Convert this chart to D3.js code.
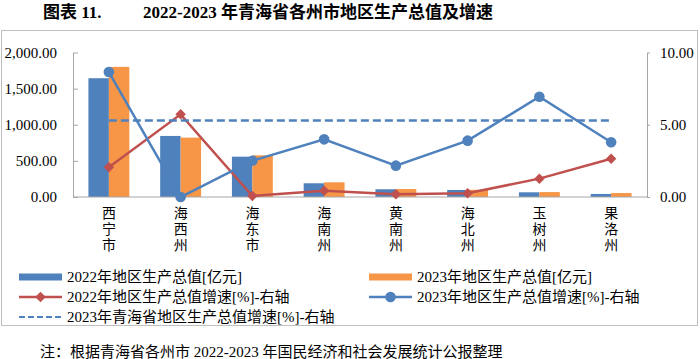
<!DOCTYPE html>
<html>
<head>
<meta charset="utf-8">
<script src="https://cdn.jsdelivr.net/npm/d3@7"></script>
<style>
  html, body { margin: 0; padding: 0; background: #fff; }
  svg { display: block; }
  text { font-family: "Liberation Serif", "Times New Roman", "Noto Sans CJK SC", serif; }
</style>
</head>
<body>
<svg id="chart" width="700" height="359"></svg>
<script>
const categories = ["西宁市", "海西州", "海东市", "海南州", "黄南州", "海北州", "玉树州", "果洛州"];
const gdp2022 = [1644, 845, 558, 190, 107, 97, 65, 42];
const gdp2023 = [1801, 822, 577, 203, 110, 100, 68, 55];
const growth2022 = [2.06, 5.72, 0.07, 0.44, 0.19, 0.26, 1.27, 2.65];
const growth2023 = [8.65, 0.0, 2.51, 3.99, 2.17, 3.90, 6.94, 3.79];
const provinceGrowth2023 = 5.3;
const leftTicks = [0, 500, 1000, 1500, 2000];
const rightTicks = [0, 5, 10];
const legendLabels = [
  "2022年地区生产总值[亿元]",
  "2023年地区生产总值[亿元]",
  "2022年地区生产总值增速[%]-右轴",
  "2023年地区生产总值增速[%]-右轴",
  "2023年青海省地区生产总值增速[%]-右轴"
];

const C_BLUE = "#4F81BD", C_ORANGE = "#F79646", C_RED = "#C0504D", C_AXIS = "#A6A6A6";
const svg = d3.select("#chart");

// title
svg.append("text").attr("x", 43).attr("y", 18).attr("font-size", 17).attr("font-weight", "bold")
  .attr("fill", "#000").text("图表 11.");
svg.append("text").attr("x", 143).attr("y", 18).attr("font-size", 17).attr("font-weight", "bold")
  .attr("fill", "#000").text("2022-2023 年青海省各州市地区生产总值及增速");

// frame
svg.append("rect").attr("x", 1.5).attr("y", 30.5).attr("width", 696).attr("height", 295)
  .attr("fill", "none").attr("stroke", "#BFBFBF").attr("stroke-width", 1);

const L = 73, R = 647, T = 52.5, B = 197;
const x0 = d3.scaleBand().domain(categories).range([L, R]).paddingInner(0.43).paddingOuter(0.215);
const x1 = d3.scaleBand().domain(["2022", "2023"]).range([0, x0.bandwidth()]);
const yL = d3.scaleLinear().domain([0, 2000]).range([B, T]);
const yR = d3.scaleLinear().domain([0, 10]).range([B, T]);
const cx = c => x0(c) + x0.bandwidth() / 2;

// bars
const g = svg.append("g");
categories.forEach((c, i) => {
  g.append("rect").attr("x", x0(c) + x1("2022")).attr("width", x1.bandwidth())
    .attr("y", yL(gdp2022[i])).attr("height", B - yL(gdp2022[i])).attr("fill", C_BLUE);
  g.append("rect").attr("x", x0(c) + x1("2023")).attr("width", x1.bandwidth())
    .attr("y", yL(gdp2023[i])).attr("height", B - yL(gdp2023[i])).attr("fill", C_ORANGE);
});

// axes
const axL = svg.append("g").attr("transform", `translate(${L},0)`)
  .call(d3.axisLeft(yL).tickValues(leftTicks).tickFormat(d3.format(",.2f")).tickSizeInner(-5).tickSizeOuter(0).tickPadding(16));
const axR = svg.append("g").attr("transform", `translate(${R},0)`)
  .call(d3.axisRight(yR).tickValues(rightTicks).tickFormat(d3.format(".2f")).tickSizeInner(3).tickSizeOuter(0).tickPadding(10));
[axL, axR].forEach(a => {
  a.select(".domain").attr("stroke", C_AXIS);
  a.selectAll(".tick line").attr("stroke", C_AXIS);
  a.selectAll(".tick text").attr("font-size", 15).attr("fill", "#000")
    .attr("font-family", "\"Liberation Serif\", \"Times New Roman\", serif");
});
svg.append("line").attr("x1", L).attr("x2", R).attr("y1", B).attr("y2", B).attr("stroke", C_AXIS);

// category labels (vertical stacked)
categories.forEach(c => {
  Array.from(c).forEach((ch, k) => {
    svg.append("text").attr("text-anchor", "middle").attr("font-size", 14)
      .attr("fill", "#000").style("fill", "#000")
      .attr("x", cx(c)).attr("y", 218 + k * 16).text(ch);
  });
});

// lines
const line = d3.line().x((d, i) => cx(categories[i])).y(d => yR(d));
svg.append("path").datum(growth2022).attr("d", line).attr("fill", "none").attr("stroke", C_RED).attr("stroke-width", 2.5);
growth2022.forEach((v, i) => {
  svg.append("path").attr("d", d3.symbol().type(d3.symbolSquare).size(55)())
    .attr("transform", `translate(${cx(categories[i])},${yR(v)}) rotate(45)`).attr("fill", C_RED);
});
svg.append("path").datum(growth2023).attr("d", line).attr("fill", "none").attr("stroke", C_BLUE).attr("stroke-width", 2.5);
growth2023.forEach((v, i) => {
  svg.append("circle").attr("cx", cx(categories[i])).attr("cy", yR(v)).attr("r", 5.3).attr("fill", C_BLUE);
});
svg.append("line").attr("x1", cx(categories[0])).attr("x2", cx(categories[categories.length - 1]))
  .attr("y1", yR(provinceGrowth2023)).attr("y2", yR(provinceGrowth2023))
  .attr("stroke", C_BLUE).attr("stroke-width", 2.5).attr("stroke-dasharray", "8,4");

// legend
const lg = svg.append("g");
const legendPos = [[19, 277], [369, 277], [19, 297], [369, 297], [19, 317]];
legendPos.forEach(([lx, ly], k) => {
  const sw = 43;
  if (k === 0 || k === 1) {
    lg.append("rect").attr("x", lx).attr("y", ly - 3.5).attr("width", sw).attr("height", 7)
      .attr("fill", k === 0 ? C_BLUE : C_ORANGE);
  } else if (k === 2) {
    lg.append("line").attr("x1", lx).attr("x2", lx + sw).attr("y1", ly).attr("y2", ly).attr("stroke", C_RED).attr("stroke-width", 2.5);
    lg.append("path").attr("d", d3.symbol().type(d3.symbolSquare).size(55)())
      .attr("transform", `translate(${lx + sw / 2},${ly}) rotate(45)`).attr("fill", C_RED);
  } else if (k === 3) {
    lg.append("line").attr("x1", lx).attr("x2", lx + sw).attr("y1", ly).attr("y2", ly).attr("stroke", C_BLUE).attr("stroke-width", 2.5);
    lg.append("circle").attr("cx", lx + sw / 2).attr("cy", ly).attr("r", 5.3).attr("fill", C_BLUE);
  } else {
    lg.append("line").attr("x1", lx).attr("x2", lx + sw).attr("y1", ly).attr("y2", ly).attr("stroke", C_BLUE)
      .attr("stroke-width", 2).attr("stroke-dasharray", "6,3");
  }
  lg.append("text").attr("x", lx + sw + 5).attr("y", ly).attr("dy", "0.35em").attr("font-size", 15)
    .attr("fill", "#000").text(legendLabels[k]);
});

// footer
svg.append("text").attr("x", 40).attr("y", 357).attr("font-size", 15).attr("fill", "#000")
  .text("注：根据青海省各州市 2022-2023 年国民经济和社会发展统计公报整理");
</script>
</body>
</html>
